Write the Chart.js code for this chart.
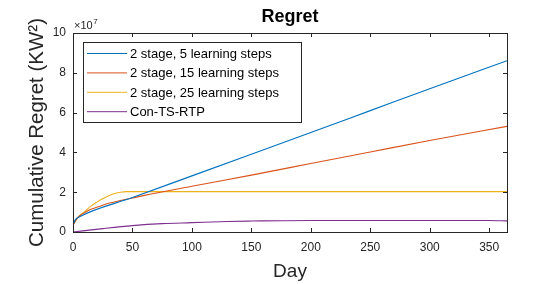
<!DOCTYPE html>
<html>
<head>
<meta charset="utf-8">
<script src="https://cdn.jsdelivr.net/npm/chart.js@4.4.1/dist/chart.umd.min.js"></script>
<style>
html,body{margin:0;padding:0;background:#fff;}
#wrap{width:560px;height:284px;}
</style>
</head>
<body>
<div id="wrap"><canvas id="c" width="560" height="284"></canvas></div>
<script>
// ---- Data (values in units of 1e7 KW^2) ----
const seriesNames = ['2 stage, 5 learning steps', '2 stage, 15 learning steps', '2 stage, 25 learning steps', 'Con-TS-RTP'];
const days5   = [0, 2, 5, 50, 100, 150, 200, 250, 300, 365];
const regret5 = [0.35, 0.62, 0.75, 1.73, 2.82, 3.91, 5.0, 6.1, 7.2, 8.61];
const days15   = [0, 3, 6, 10, 15, 20, 30, 40, 50, 60, 100, 150, 200, 250, 300, 365];
const regret15 = [0.35, 0.65, 0.83, 0.98, 1.14, 1.24, 1.44, 1.58, 1.71, 1.84, 2.30, 2.86, 3.44, 4.02, 4.6, 5.31];
const days25   = [0, 3, 6, 10, 15, 20, 25, 30, 35, 40, 45, 50, 365];
const regret25 = [0.35, 0.65, 0.85, 1.03, 1.3, 1.5, 1.67, 1.82, 1.93, 2.0, 2.03, 2.03, 2.03];
const daysTS   = [0, 25, 50, 75, 100, 130, 150, 200, 250, 300, 350, 365];
const regretTS = [0, 0.17, 0.32, 0.42, 0.47, 0.53, 0.55, 0.58, 0.58, 0.58, 0.58, 0.56];
const xTicks = [0, 50, 100, 150, 200, 250, 300, 350];
const yTicks = [0, 2, 4, 6, 8, 10];
const colors = ['#0072BD', '#D95319', '#EDB120', '#7E2F8E'];

const toPts = (xs, ys) => xs.map((x, i) => ({x: x, y: ys[i]}));
const allData = [toPts(days5, regret5), toPts(days15, regret15), toPts(days25, regret25), toPts(daysTS, regretTS)];

const FONT = "'Liberation Sans', Arial, Helvetica, sans-serif";
const AX = '#262626';

const matlabPlugin = {
  id: 'matlab',
  afterDraw(chart) {
    const ctx = chart.ctx;
    const a = chart.chartArea;
    const xs = chart.scales.x, ys = chart.scales.y;
    ctx.save();
    // axes box
    ctx.strokeStyle = AX;
    ctx.lineWidth = 1;
    ctx.strokeRect(Math.round(a.left) + 0.5, Math.round(a.top) + 0.5, Math.round(a.right - a.left), Math.round(a.bottom - a.top));
    // inward ticks
    ctx.beginPath();
    xTicks.forEach(v => {
      const px = Math.round(xs.getPixelForValue(v)) + 0.5;
      ctx.moveTo(px, a.bottom); ctx.lineTo(px, a.bottom - 4);
      ctx.moveTo(px, a.top); ctx.lineTo(px, a.top + 4);
    });
    yTicks.forEach(v => {
      const py = Math.round(ys.getPixelForValue(v)) + 0.5;
      ctx.moveTo(a.left, py); ctx.lineTo(a.left + 4, py);
      ctx.moveTo(a.right, py); ctx.lineTo(a.right - 4, py);
    });
    ctx.stroke();
    // title
    ctx.fillStyle = '#000';
    ctx.font = 'bold 18px ' + FONT;
    ctx.textAlign = 'center';
    ctx.textBaseline = 'alphabetic';
    ctx.fillText('Regret', (a.left + a.right) / 2, 22);
    // exponent
    ctx.fillStyle = AX;
    ctx.textAlign = 'left';
    ctx.font = '11px ' + FONT;
    ctx.fillText('\u00d710', 74, 29);
    const w = ctx.measureText('\u00d710').width;
    ctx.font = '8px ' + FONT;
    ctx.fillText('7', 74 + w + 0.5, 24);
    // legend
    const lx = 83.5, ly = 42.5, lw = 218, lh = 80;
    ctx.fillStyle = '#fff';
    ctx.fillRect(lx, ly, lw, lh);
    ctx.strokeStyle = '#262626';
    ctx.strokeRect(lx, ly, lw, lh);
    ctx.font = '13px ' + FONT;
    ctx.textBaseline = 'middle';
    chart.data.datasets.forEach((ds, i) => {
      const y = 53.5 + i * 19.4;
      ctx.strokeStyle = ds.borderColor;
      ctx.lineWidth = 1;
      ctx.beginPath();
      ctx.moveTo(87, y); ctx.lineTo(127, y);
      ctx.stroke();
      ctx.fillStyle = '#000';
      ctx.fillText(ds.label, 130, y + 1);
    });
    ctx.restore();
  }
};

new Chart(document.getElementById('c'), {
  type: 'line',
  data: {
    datasets: seriesNames.map((n, i) => ({
      label: n,
      data: allData[i],
      borderColor: colors[i],
      backgroundColor: colors[i],
      borderWidth: 1.1,
      pointRadius: 0,
      cubicInterpolationMode: 'monotone',
      fill: false
    }))
  },
  options: {
    responsive: false,
    animation: false,
    devicePixelRatio: 1,
    layout: {padding: {left: 0, right: 53, top: 33, bottom: 0}},
    plugins: {legend: {display: false}, title: {display: false}, tooltip: {enabled: false}},
    scales: {
      x: {
        type: 'linear', min: 0, max: 365,
        afterBuildTicks: s => { s.ticks = xTicks.map(v => ({value: v})); },
        afterFit: s => { s.height = 52; },
        grid: {display: false, drawTicks: false},
        border: {display: false},
        ticks: {color: AX, font: {family: FONT, size: 12}, padding: 8, maxRotation: 0, autoSkip: false},
        title: {display: true, text: 'Day', color: AX, font: {family: FONT, size: 19, lineHeight: 1.2}, padding: {top: 0, bottom: 1}}
      },
      y: {
        type: 'linear', min: 0, max: 10,
        afterBuildTicks: s => { s.ticks = yTicks.map(v => ({value: v})); },
        afterFit: s => { s.width = 73; },
        grid: {display: false, drawTicks: false},
        border: {display: false},
        ticks: {color: AX, font: {family: FONT, size: 12}, padding: 7, autoSkip: false},
        title: {display: true, text: 'Cumulative Regret (KW\u00b2)', color: AX, font: {family: FONT, size: 20.5, lineHeight: 1.2}, padding: {top: 25, bottom: 0}}
      }
    }
  },
  plugins: [matlabPlugin]
});
</script>
</body>
</html>
